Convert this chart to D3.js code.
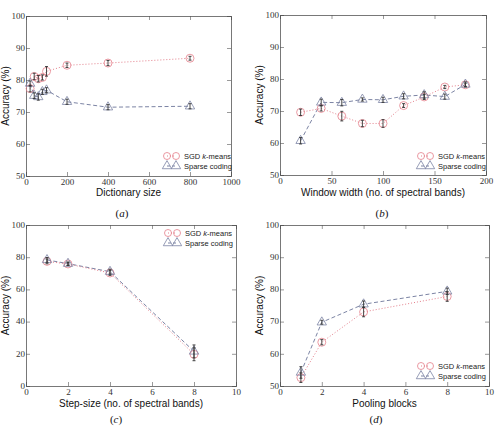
<!DOCTYPE html>
<html>
<head>
<meta charset="utf-8">
<script src="https://cdn.jsdelivr.net/npm/d3@7"></script>
<style>
  body { margin: 0; background: #fff; }
  svg { display: block; }
</style>
</head>
<body>
<div id="chart-area"></div>
<script>
// (a) dictionary size
const dictSizes = [20, 40, 60, 80, 100, 200, 400, 800];
const dictKmeans = [77.3, 81.1, 80.4, 80.8, 82.7, 84.6, 85.3, 86.8];
const dictKmeansErr = [1, 1, 1, 0.8, 1.5, 0.7, 0.8, 0.6];
const dictSparse = [78.9, 75.1, 74.7, 76.3, 76.8, 73.2, 71.5, 71.8];
const dictSparseErr = [0.8, 0.9, 1, 0.8, 0.8, 0.8, 0.8, 0.8];

// (b) window width
const winWidths = [20, 40, 60, 80, 100, 120, 140, 160, 180];
const winKmeans = [69.6, 70.8, 68.4, 66.1, 66.1, 71.7, 74.4, 77.5, 78.2];
const winKmeansErr = [1, 0.8, 1.5, 1, 1.2, 0.6, 0.8, 0.5, 0.5];
const winSparse = [60.7, 72.7, 72.6, 73.6, 73.5, 74.6, 75, 74.5, 78.3];
const winSparseErr = [1, 1, 1, 0.5, 0.8, 0.8, 1, 0.8, 0.8];

// (c) step size
const stepSizes = [1, 2, 4, 8];
const stepKmeans = [77.4, 75.8, 70.2, 19.7];
const stepKmeansErr = [1.5, 1, 1.5, 4];
const stepSparse = [78.3, 76, 71, 21.5];
const stepSparseErr = [1.5, 1, 1.5, 4];

// (d) pooling blocks
const poolBlocks = [1, 2, 4, 8];
const poolKmeans = [52.6, 63.6, 73, 77.8];
const poolKmeansErr = [1.5, 0.8, 1.5, 1.5];
const poolSparse = [54.2, 69.8, 75.4, 79.4];
const poolSparseErr = [1.8, 0.6, 1, 1];

const kmeansColor = "#e4808c";
const sparseColor = "#7c84a4";
const sans = "Liberation Sans, Arial, sans-serif";
const serif = "Liberation Serif, serif";

const svg = d3
  .select("#chart-area")
  .append("svg")
  .attr("width", 496)
  .attr("height", 433);

const panels = [
  {
    box: { left: 26, right: 231, top: 16, bottom: 176 },
    xDomain: [0, 1000], xTicks: [0, 200, 400, 600, 800, 1000],
    yDomain: [50, 100], yTicks: [50, 60, 70, 80, 90, 100],
    xs: dictSizes, k: dictKmeans, kErr: dictKmeansErr, s: dictSparse, sErr: dictSparseErr,
    xLabel: "Dictionary size", xLabelY: 196, tag: "a", tagX: 122, tagY: 217,
    legend: { x: 167, y: 156 }
  },
  {
    box: { left: 280, right: 486, top: 15, bottom: 175 },
    xDomain: [0, 200], xTicks: [0, 50, 100, 150, 200],
    yDomain: [50, 100], yTicks: [50, 60, 70, 80, 90, 100],
    xs: winWidths, k: winKmeans, kErr: winKmeansErr, s: winSparse, sErr: winSparseErr,
    xLabel: "Window width (no. of spectral bands)", xLabelY: 196, tag: "b", tagX: 382, tagY: 217,
    legend: { x: 421, y: 156 }
  },
  {
    box: { left: 26, right: 236, top: 225, bottom: 386 },
    xDomain: [0, 10], xTicks: [0, 2, 4, 6, 8, 10],
    yDomain: [0, 100], yTicks: [0, 20, 40, 60, 80, 100],
    xs: stepSizes, k: stepKmeans, kErr: stepKmeansErr, s: stepSparse, sErr: stepSparseErr,
    xLabel: "Step-size (no. of spectral bands)", xLabelY: 407, tag: "c", tagX: 116, tagY: 423,
    legend: { x: 168, y: 233 }
  },
  {
    box: { left: 280, right: 489, top: 225, bottom: 386 },
    xDomain: [0, 10], xTicks: [0, 2, 4, 6, 8, 10],
    yDomain: [50, 100], yTicks: [50, 60, 70, 80, 90, 100],
    xs: poolBlocks, k: poolKmeans, kErr: poolKmeansErr, s: poolSparse, sErr: poolSparseErr,
    xLabel: "Pooling blocks", xLabelY: 407, tag: "d", tagX: 376, tagY: 423,
    legend: { x: 421, y: 366 }
  }
];

const triangle = d3.symbol().type(d3.symbolTriangle).size(38);

function drawPanel(p) {
  const b = p.box;
  const x = d3.scaleLinear().domain(p.xDomain).range([b.left, b.right]);
  const y = d3.scaleLinear().domain(p.yDomain).range([b.bottom, b.top]);
  const g = svg.append("g");

  // axes with inward ticks, labels outside
  const bottom = g.append("g")
    .attr("transform", "translate(0," + b.bottom + ")")
    .call(d3.axisBottom(x).tickValues(p.xTicks).tickSize(-4).tickPadding(3).tickFormat(d3.format("d")));
  const top = g.append("g")
    .attr("transform", "translate(0," + b.top + ")")
    .call(d3.axisTop(x).tickValues(p.xTicks).tickSize(-4).tickFormat(""));
  const left = g.append("g")
    .attr("transform", "translate(" + b.left + ",0)")
    .call(d3.axisLeft(y).tickValues(p.yTicks).tickSize(-4).tickPadding(1).tickFormat(d3.format("d")));
  const right = g.append("g")
    .attr("transform", "translate(" + b.right + ",0)")
    .call(d3.axisRight(y).tickValues(p.yTicks).tickSize(-4).tickFormat(""));

  [bottom, top, left, right].forEach(a => {
    a.select(".domain").attr("stroke", "#555").attr("stroke-width", 0.8);
    a.selectAll(".tick line").attr("stroke", "#555").attr("stroke-width", 0.6);
    a.selectAll("text")
      .attr("font-family", serif)
      .attr("font-size", 9)
      .attr("fill", "#333");
  });
  left.selectAll("text").attr("dy", "0.25em");

  // axis labels
  g.append("text")
    .attr("x", (b.left + b.right) / 2)
    .attr("y", p.xLabelY)
    .attr("text-anchor", "middle")
    .attr("font-family", sans)
    .attr("font-size", 10)
    .attr("fill", "#111")
    .text(p.xLabel);

  g.append("text")
    .attr("transform", "translate(" + (b.left - 17) + "," + (b.top + b.bottom) / 2 + ") rotate(-90)")
    .attr("text-anchor", "middle")
    .attr("font-family", sans)
    .attr("font-size", 10)
    .attr("fill", "#111")
    .text("Accuracy (%)");

  g.append("text")
    .attr("x", p.tagX)
    .attr("y", p.tagY)
    .attr("text-anchor", "middle")
    .attr("font-family", serif)
    .attr("font-size", 11)
    .attr("fill", "#111")
    .html("(<tspan font-style='italic'>" + p.tag + "</tspan>)");

  const kData = p.xs.map((v, i) => ({ x: v, y: p.k[i], e: p.kErr[i] }));
  const sData = p.xs.map((v, i) => ({ x: v, y: p.s[i], e: p.sErr[i] }));
  const line = d3.line().x(d => x(d.x)).y(d => y(d.y));

  g.append("path")
    .datum(sData)
    .attr("d", line)
    .attr("fill", "none")
    .attr("stroke", sparseColor)
    .attr("stroke-width", 1)
    .attr("stroke-dasharray", "4,2.5");

  g.append("path")
    .datum(kData)
    .attr("d", line)
    .attr("fill", "none")
    .attr("stroke", kmeansColor)
    .attr("stroke-width", 1)
    .attr("stroke-dasharray", "1,2");

  g.selectAll(".kdot")
    .data(kData)
    .enter()
    .append("circle")
    .attr("cx", d => x(d.x))
    .attr("cy", d => y(d.y))
    .attr("r", 4)
    .attr("fill", "none")
    .attr("stroke", kmeansColor)
    .attr("stroke-width", 0.8);

  g.selectAll(".sdot")
    .data(sData)
    .enter()
    .append("path")
    .attr("d", triangle)
    .attr("transform", d => "translate(" + x(d.x) + "," + y(d.y) + ")")
    .attr("fill", "none")
    .attr("stroke", sparseColor)
    .attr("stroke-width", 0.8);

  // error bars
  const errs = kData.concat(sData);
  const eb = g.selectAll(".err").data(errs).enter().append("g").attr("stroke", "#333").attr("stroke-width", 0.9);
  eb.append("line")
    .attr("x1", d => x(d.x)).attr("x2", d => x(d.x))
    .attr("y1", d => y(d.y - d.e)).attr("y2", d => y(d.y + d.e));
  eb.append("line")
    .attr("x1", d => x(d.x) - 1.5).attr("x2", d => x(d.x) + 1.5)
    .attr("y1", d => y(d.y - d.e)).attr("y2", d => y(d.y - d.e));
  eb.append("line")
    .attr("x1", d => x(d.x) - 1.5).attr("x2", d => x(d.x) + 1.5)
    .attr("y1", d => y(d.y + d.e)).attr("y2", d => y(d.y + d.e));

  // legend
  const L = p.legend;
  const lg = g.append("g").attr("transform", "translate(" + L.x + "," + L.y + ")");
  lg.append("line").attr("x1", 0).attr("x2", 9).attr("y1", 0).attr("y2", 0)
    .attr("stroke", kmeansColor).attr("stroke-dasharray", "1,2");
  [0, 9].forEach(dx => lg.append("circle").attr("cx", dx).attr("cy", 0).attr("r", 3.5)
    .attr("fill", "none").attr("stroke", kmeansColor).attr("stroke-width", 0.8));
  lg.append("line").attr("x1", 0).attr("x2", 9).attr("y1", 10).attr("y2", 10)
    .attr("stroke", sparseColor).attr("stroke-dasharray", "3,2");
  [0, 9].forEach(dx => lg.append("path").attr("d", triangle)
    .attr("transform", "translate(" + dx + ",10)")
    .attr("fill", "none").attr("stroke", sparseColor).attr("stroke-width", 0.8));
  lg.append("text").attr("x", 17).attr("y", 2.5)
    .attr("font-family", sans).attr("font-size", 7.5).attr("fill", "#222")
    .html("SGD <tspan font-style='italic'>k</tspan>-means");
  lg.append("text").attr("x", 17).attr("y", 12.5)
    .attr("font-family", sans).attr("font-size", 7.5).attr("fill", "#222")
    .text("Sparse coding");
}

panels.forEach(drawPanel);
</script>
</body>
</html>
